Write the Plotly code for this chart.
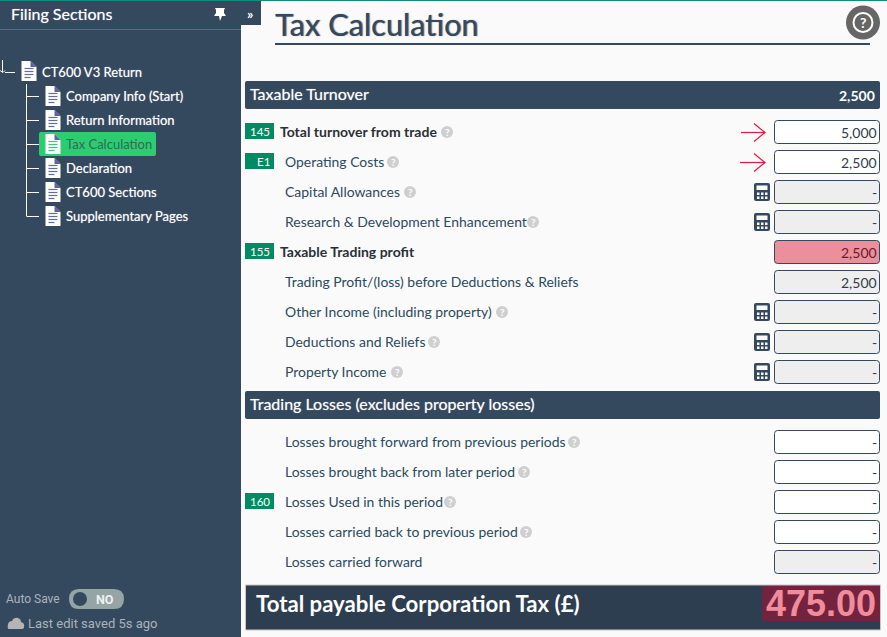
import plotly.graph_objects as go

# sidebar tree
tree_root = "CT600 V3 Return"
tree_items = ["Company Info (Start)", "Return Information", "Tax Calculation",
              "Declaration", "CT600 Sections", "Supplementary Pages"]
tree_active = "Tax Calculation"

# first block of rows: badge, label, value, bold, calculator, help icon, box style
rows_a_badges = ["145", "E1", "", "", "155", "", "", "", ""]
rows_a_labels = ["Total turnover from trade", "Operating Costs", "Capital Allowances",
                 "Research & Development Enhancement", "Taxable Trading profit",
                 "Trading Profit/(loss) before Deductions & Reliefs",
                 "Other Income (including property)", "Deductions and Reliefs", "Property Income"]
rows_a_values = ["5,000", "2,500", "-", "-", "2,500", "2,500", "-", "-", "-"]
rows_a_kinds = ["input", "input", "grey", "grey", "red", "grey", "grey", "grey", "grey"]
rows_a_bold = [True, False, False, False, True, False, False, False, False]
rows_a_calc = [False, False, True, True, False, False, True, True, True]
rows_a_help_x = [447, 393, 410, 533, None, None, 502, 434, 397]

# second block
rows_b_badges = ["", "", "160", "", ""]
rows_b_labels = ["Losses brought forward from previous periods", "Losses brought back from later period",
                 "Losses Used in this period", "Losses carried back to previous period", "Losses carried forward"]
rows_b_values = ["-", "-", "-", "-", "-"]
rows_b_kinds = ["input", "input", "input", "input", "grey"]
rows_b_help_x = [574, 524, 450, 526, None]

turnover_total = "2,500"
tax_total = "475.00"

NAVY = "#34495e"
TEXT = "#2c4a60"
GREEN = "#028a63"
GLOW = "0 0 1px rgba(255,255,255,0.55)"

shapes = []
notes = []


def rect(x0, y0, x1, y1, fill, line=None, width=1, r=0):
    if r:
        path = (f"M{x0+r},{y0} L{x1-r},{y0} Q{x1},{y0} {x1},{y0+r} L{x1},{y1-r} Q{x1},{y1} {x1-r},{y1} "
                f"L{x0+r},{y1} Q{x0},{y1} {x0},{y1-r} L{x0},{y0+r} Q{x0},{y0} {x0+r},{y0} Z")
        shapes.append(dict(type="path", path=path, fillcolor=fill,
                           line=dict(color=line or fill, width=width if line else 0)))
    else:
        shapes.append(dict(type="rect", x0=x0, y0=y0, x1=x1, y1=y1, fillcolor=fill,
                           line=dict(color=line or fill, width=width if line else 0)))


def seg(x0, y0, x1, y1, color, width=1):
    shapes.append(dict(type="line", x0=x0, y0=y0, x1=x1, y1=y1, line=dict(color=color, width=width)))


def path(d, fill="rgba(0,0,0,0)", line=None, width=1):
    shapes.append(dict(type="path", path=d, fillcolor=fill,
                       line=dict(color=line or "rgba(0,0,0,0)", width=width if line else 0)))


def circle(cx, cy, r, fill, line=None, width=1):
    shapes.append(dict(type="circle", x0=cx-r, y0=cy-r, x1=cx+r, y1=cy+r, fillcolor=fill,
                       line=dict(color=line or fill, width=width if line else 0)))


def text(x, y, s, size=14, color=TEXT, anchor="left", family="Lato", bold=False, shadow=None):
    font = dict(size=size, color=color, family=family)
    if shadow:
        font["shadow"] = shadow
    notes.append(dict(x=x, y=y, text=f"<b>{s}</b>" if bold else s, showarrow=False, xanchor=anchor,
                      yanchor="middle", font=font, xref="x", yref="y", borderpad=0, borderwidth=0))


def doc_icon(x, y, active=False):
    # page with folded corner and text lines, x,y = centre
    l, r, t, b = x-7.5, x+7.5, y-10, y+10
    path(f"M{l},{t} L{r-6},{t} L{r},{t+6} L{r},{b} L{l},{b} Z", fill="#ffffff")
    path(f"M{r-6},{t} L{r},{t+6} L{r-6},{t+6} Z", fill="#5c62a8")
    for dy in (-1.5, 1.5, 4.5, 7.5):
        seg(l+3, y+dy-1, r-3 if dy < 7 else r-6, y+dy-1, "#3fc47f" if active else "#5f6f96", 1.2)


def help_icon(x, y):
    circle(x, y, 6, "#cfcfcf")
    text(x, y, "?", size=10, color="#ffffff", anchor="center", bold=True)


def calc_icon(x, y):
    rect(x-8, y-9, x+8, y+9, NAVY, r=2)
    rect(x-5.5, y-6.5, x+5.5, y-2, "#fafafa")
    for cx in (-5, -1, 3):
        for cy in (0.5, 4.5):
            rect(x+cx, y+cy, x+cx+2.5, y+cy+2.5, "#fafafa")


def red_arrow(x0, x1, y):
    seg(x0, y, x1, y, "#e8173c", 1.2)
    path(f"M{x1-11},{y-9} L{x1},{y} L{x1-11},{y+9}", line="#e8173c", width=1.2)


def draw_row(y, badge, label, value, kind, bold=False, calc=False, help_x=None):
    if badge:
        rect(245, y-9, 274, y+7, GREEN)
        text(270 if badge == "E1" else 259.5, y-1, badge, size=11.5, color="#ffffff",
             anchor="right" if badge == "E1" else "center")
    if bold:
        text(280, y-1, label, size=14, color="#2a3036", bold=True)
    else:
        text(285, y-1, label, size=13.95, color=TEXT)
    if help_x:
        help_icon(help_x, y)
    if calc:
        calc_icon(762, y)
    fill = {"input": "#ffffff", "grey": "#eeeeee", "red": "#ea8f9b"}[kind]
    rect(774.5, y-11.5, 879.5, y+11.5, fill, line=NAVY, width=1, r=3)
    text(877, y, value, size=14, color="#6b1a2e" if kind == "red" else "#2f3d4a", anchor="right")


# page
rect(0, 0, 887, 637, "#fafafa")
rect(0, 0, 241, 637, NAVY)
rect(241, 0, 261, 25, NAVY)
rect(0, 0, 887, 1, "#0b8f7c")
seg(0, 29.5, 241, 29.5, "#1f8a8a", 1)

# sidebar header
text(11, 13, "Filing Sections", size=16, color="#ffffff", shadow=GLOW)
path("M215,8 L225,8 L224,10 L224,13 L226,16 L222,16 L220,21 L219,16 L214,16 L216,13 L216,10 Z", fill="#ffffff")
text(250, 13, "»", size=14, color="#ffffff", anchor="center", bold=True)

# tree
seg(5, 72.5, 15, 72.5, "#ffffff", 1)
seg(2.5, 60, 2.5, 72, "#ffffff", 1)
path("M0,70.5 L3,72.5 L5,70.5", line="#ffffff", width=1)
doc_icon(29, 71)
text(42, 72, tree_root, size=13, color="#ffffff", shadow=GLOW)
tree_ys = [96 + 24*i for i in range(len(tree_items))]
seg(26.5, 84, 26.5, tree_ys[-1], "#ffffff", 1)
for name, y in zip(tree_items, tree_ys):
    seg(26.5, y+0.5, 39, y+0.5, "#ffffff", 1)
    active = name == tree_active
    if active:
        rect(39, y-12, 156, y+12, "#2ecc71", r=2)
    doc_icon(53, y, active)
    text(66, y, name, size=13, color="#2f6b58" if active else "#ffffff", shadow=None if active else GLOW)

# footer of sidebar
text(6, 599, "Auto Save", size=12, color="#aab3bb", family="Roboto")
rect(69, 589, 124, 609, "#95a5a6", r=10)
circle(80, 599, 7, NAVY)
text(105, 599, "NO", size=12.5, color="#eef1f1", anchor="center", family="Roboto", bold=True)
path("M9,629 Q7,629 8,624 Q9,621 12,621 Q14,617 18,618 Q21,619 21,622 Q25,623 24,627 Q24,629 21,629 Z", fill="#b5b5b5")
text(28, 623, "Last edit saved 5s ago", size=13, color="#aab3bb", family="Roboto")

# title
text(275, 24, "Tax Calculation", size=30.7, color=NAVY, shadow="1px 0 1px rgba(52,73,94,0.8)")
seg(275, 44, 870, 44, NAVY, 2)
circle(863, 22.5, 17, "#666666")
circle(863, 22.5, 9.5, "rgba(0,0,0,0)", line="#ffffff", width=2)
text(863, 22.5, "?", size=14, color="#ffffff", anchor="center", bold=True)

# section headers
rect(245, 81, 880, 109, NAVY, r=2)
text(250, 93, "Taxable Turnover", size=16, color="#ffffff", shadow=GLOW)
text(875, 95.5, turnover_total, size=14, color="#ffffff", anchor="right", bold=True)
rect(245, 391, 880, 419, NAVY, r=2)
text(250, 403, "Trading Losses (excludes property losses)", size=16, color="#ffffff", shadow=GLOW)

# rows
for i in range(len(rows_a_labels)):
    draw_row(132 + 30*i, rows_a_badges[i], rows_a_labels[i], rows_a_values[i], rows_a_kinds[i],
             rows_a_bold[i], rows_a_calc[i], rows_a_help_x[i])
for i in range(len(rows_b_labels)):
    draw_row(442 + 30*i, rows_b_badges[i], rows_b_labels[i], rows_b_values[i], rows_b_kinds[i],
             help_x=rows_b_help_x[i])

red_arrow(741, 765, 132.5)
red_arrow(740, 765, 162.5)

# total band
rect(245.5, 585, 880.5, 630, "#2c3e50", line="#c8c8c8", width=1)
text(256, 603, "Total payable Corporation Tax (£)", size=22.2, color="#ffffff", bold=True)
rect(762, 586, 880, 621, "#74233f", r=2)
text(875.5, 603.5, tax_total, size=36, color="#f08c9c", anchor="right", family="Liberation Sans", bold=True)

fig = go.Figure()
fig.update_layout(width=887, height=637, margin=dict(l=0, r=0, t=0, b=0),
                  paper_bgcolor="#fafafa", plot_bgcolor="#fafafa", showlegend=False,
                  shapes=shapes, annotations=notes,
                  xaxis=dict(range=[0, 887], visible=False, fixedrange=True),
                  yaxis=dict(range=[637, 0], visible=False, fixedrange=True))
fig.write_html("out.html", config={"displayModeBar": False},
               post_script="document.body.style.margin='0';")
